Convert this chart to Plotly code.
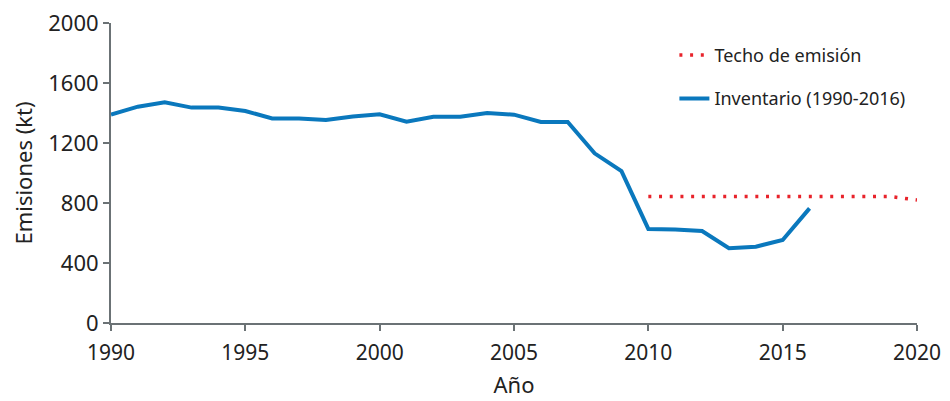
import plotly.graph_objects as go

years_inv = list(range(1990, 2017))
inventario = [1390, 1442, 1471, 1436, 1436, 1413, 1364, 1364, 1353, 1376, 1391, 1342,
              1375, 1375, 1400, 1389, 1340, 1340, 1131, 1013, 627, 624, 613, 498, 509, 553, 764]

years_techo = list(range(2010, 2021))
techo = [843, 843, 843, 843, 843, 843, 843, 843, 843, 843, 820]

x_ticks = [1990, 1995, 2000, 2005, 2010, 2015, 2020]
y_ticks = [0, 400, 800, 1200, 1600, 2000]

FONT = "Noto Sans"
AXIS_COLOR = "#6b7275"

fig = go.Figure()
fig.add_trace(go.Scatter(
    x=years_techo, y=techo, mode="lines", name="Techo de emisión",
    line=dict(color="#e8232b", width=3.5, dash="3px,7.7px"),
    legendgroup="a",
))
fig.add_trace(go.Scatter(
    x=years_inv, y=inventario, mode="lines", name="Inventario (1990-2016)",
    line=dict(color="#0a78bd", width=4),
    legendgroup="b",
))

fig.update_layout(
    width=950, height=401,
    margin=dict(l=103, r=41, t=15, b=86),
    paper_bgcolor="white", plot_bgcolor="white",
    font=dict(family=FONT, color="#222222", size=22),
    showlegend=True,
    legend=dict(
        x=0.699, y=0.954, xanchor="left", yanchor="top",
        font=dict(size=18, family=FONT, color="#222222"),
        tracegroupgap=17, traceorder="grouped",
        bgcolor="rgba(0,0,0,0)",
    ),
    xaxis=dict(
        range=[1990, 2020], tickvals=x_ticks, ticktext=[str(v) for v in x_ticks],
        showgrid=False, zeroline=False, showline=True, linecolor=AXIS_COLOR, linewidth=2,
        ticks="outside", ticklen=6, tickwidth=2, tickcolor=AXIS_COLOR,
        ticklabeloverflow="allow", automargin=False, ticklabelstandoff=4,
        tickfont=dict(size=21), title=dict(text="Año", font=dict(size=22), standoff=12),
    ),
    yaxis=dict(
        range=[0, 2000], tickvals=y_ticks, ticktext=[str(v) for v in y_ticks],
        showgrid=False, zeroline=False, showline=True, linecolor=AXIS_COLOR, linewidth=2,
        ticks="outside", ticklen=6, tickwidth=2, tickcolor=AXIS_COLOR,
        ticklabeloverflow="allow", automargin=False,
        tickfont=dict(size=22), title=dict(text="Emisiones (kt)", font=dict(size=22), standoff=10),
    ),
)

fig.write_html("out.html")
